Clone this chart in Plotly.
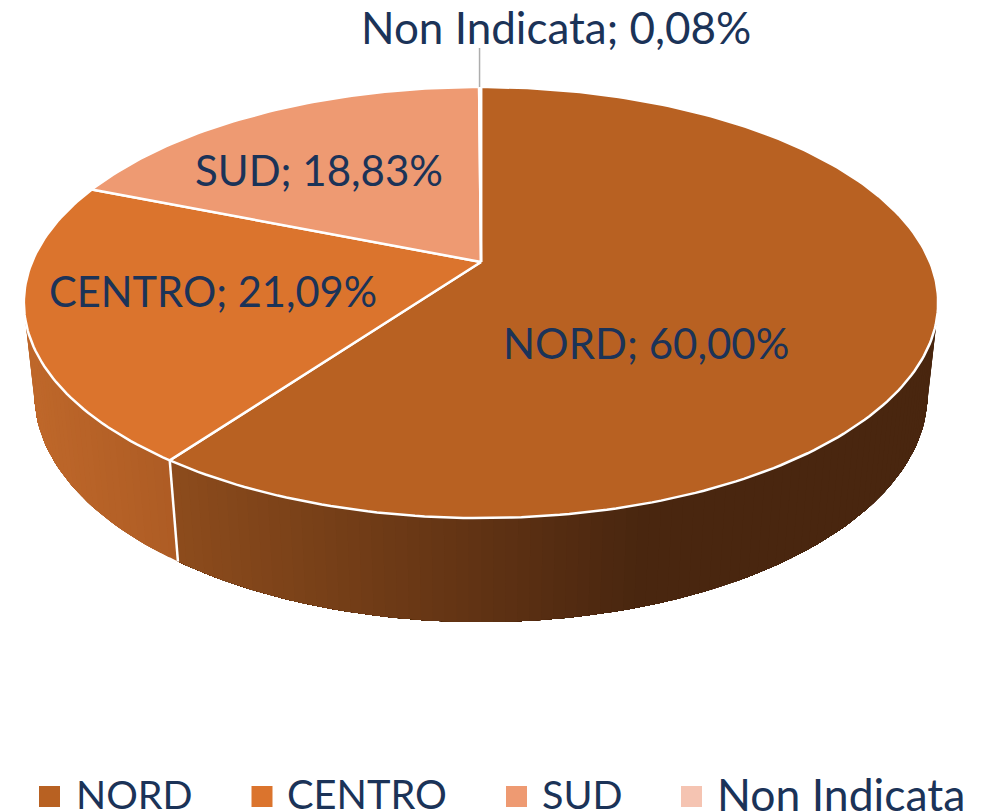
import numpy as np
import plotly.graph_objects as go

categories = ["NORD", "CENTRO", "SUD", "Non Indicata"]
values = [60.00, 21.09, 18.83, 0.08]
colors = ["#B86122", "#DB742D", "#EE9A72", "#F5C4B2"]

WIDTH, HEIGHT = 991, 811
FONT = "Lato"
TEXT = "#1B3358"
DEPTH_STEPS = 140

# perspective camera, maps the unit disc at height z (0 top, -1 bottom) to the page
def project(theta, z=0.0):
    u, v = np.sin(theta), np.cos(theta)
    w = 1 + 0.188 * v - 0.023 * z
    return 481 + 449 * u / w, (262 - 158.65 * v - 98.7 * z) / w

def mix(a, b, t):
    t = min(max(t, 0), 1)
    pa = [int(a[i:i + 2], 16) for i in (1, 3, 5)]
    pb = [int(b[i:i + 2], 16) for i in (1, 3, 5)]
    return "rgb(%d,%d,%d)" % tuple(round(x + (y - x) * t) for x, y in zip(pa, pb))

fractions = np.cumsum([0] + values) / sum(values)
angles = 2 * np.pi * fractions

fig = go.Figure()

def wall(t0, t1, c_start, c_end, x_start, x_end):
    """Each piece runs on to t1 and the next one overpaints it, so no seams show."""
    n = max(2, int(DEPTH_STEPS * (t1 - t0) / np.pi))
    edges = np.linspace(t0, t1, n + 1)
    for k in range(n):
        th = edges[k:]
        xt, yt = project(th, 0)
        xb, yb = project(th, -1)
        col = mix(c_start, c_end, (0.5 * (xt[0] + xt[1]) - x_start) / (x_end - x_start))
        fig.add_trace(go.Scatter(x=[*xt, *xb[::-1], xt[0]], y=[*yt, *yb[::-1], yt[0]], mode="lines",
                                 fill="toself", fillcolor=col, line=dict(width=0),
                                 hoverinfo="skip", showlegend=False))

# visible walls of the two front slices
wall(np.pi / 2 * 0.9, angles[1], "#8C4B1C", "#49260F", 178, 640)
wall(angles[1], angles[2] * 0.97, "#AE5C24", "#BE672A", 170, 30)

# seam between the two walls
xs0, ys0 = project(np.array([angles[1]] * 2), np.array([0, -1]))
fig.add_trace(go.Scatter(x=xs0, y=ys0, mode="lines", line=dict(color="white", width=2.5),
                         hoverinfo="skip", showlegend=False))

# top faces
for i, cat in enumerate(categories):
    m = max(3, int(360 * (fractions[i + 1] - fractions[i])))
    th = np.linspace(angles[i], angles[i + 1], m)
    x, y = project(th)
    cx, cy = project(np.array([np.pi / 2]))[0][0], 262
    fig.add_trace(go.Scatter(x=[481, *x, 481], y=[cy, *y, cy], mode="lines", fill="toself",
                             fillcolor=colors[i], line=dict(color="white", width=2.5),
                             name=cat, hoverinfo="skip", showlegend=False))

# leader line of the tiny slice
lx, ly = project(np.array([(angles[3] + angles[4]) / 2 - 2 * np.pi]))
fig.add_trace(go.Scatter(x=[lx[0] - 0.5, lx[0] - 0.5], y=[48, ly[0]], mode="lines",
                         line=dict(color="#ADADAD", width=1.5), hoverinfo="skip", showlegend=False))

def fmt(v):
    return f"{v:.2f}".replace(".", ",") + "%"

label_pos = [(646, 343), (213, 291), (319, 170), (556, 27)]
label_size = [42, 41.6, 42, 44]
for cat, val, (px, py), fs in zip(categories, values, label_pos, label_size):
    fig.add_annotation(x=px, y=py, text=f"{cat}; {fmt(val)}", showarrow=False, xanchor="center",
                       yanchor="middle", font=dict(family=FONT, size=fs, color=TEXT))

# legend row
legend_marker_x = [49.5, 262, 516.5, 691.5]
legend_text_x = [74, 285, 540, 715]
legend_size = [39.5, 39.8, 39.5, 44.5]
legend_y = 796.5
fig.add_trace(go.Scatter(x=legend_marker_x, y=[legend_y] * 4, mode="markers",
                         marker=dict(symbol="square", size=21, color=colors, line=dict(width=0)),
                         hoverinfo="skip", showlegend=False))
for cat, tx, fs in zip(categories, legend_text_x, legend_size):
    fig.add_annotation(x=tx, y=legend_y - 3, text=cat, showarrow=False, xanchor="left", yanchor="middle",
                       font=dict(family=FONT, size=fs, color=TEXT))

fig.update_layout(
    width=WIDTH, height=HEIGHT, margin=dict(l=0, r=0, t=0, b=0),
    paper_bgcolor="white", plot_bgcolor="white", showlegend=False,
    xaxis=dict(range=[0, WIDTH], visible=False, fixedrange=True),
    yaxis=dict(range=[HEIGHT, 0], visible=False, fixedrange=True),
)
fig.write_html("out.html", config={"displayModeBar": False},
               post_script="document.body.style.margin='0';document.documentElement.style.overflow='hidden';")
